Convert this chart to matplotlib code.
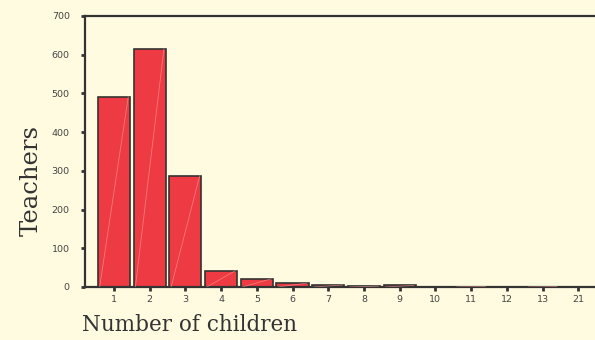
import numpy as np
import matplotlib.pyplot as plt

children = ['1', '2', '3', '4', '5', '6', '7', '8', '9', '10', '11', '12', '13', '21']
teachers = [491, 615, 287, 42, 21, 10, 5, 2, 4, 0, 1, 0, 1, 0]

bg = '#fefbe0'
fig = plt.figure(figsize=(5.95, 3.4), dpi=100, facecolor=bg)
ax = fig.add_axes([0.1429, 0.156, 0.8571, 0.797], facecolor=bg)

x = np.arange(len(children))
w = 0.9
ax.bar(x, teachers, width=w, color='#ee3b43', edgecolor='#333333', linewidth=1.2, zorder=2)
# faint diagonal streak inside each bar
for xi, h in zip(x, teachers):
    if h > 0:
        ax.plot([xi - w / 2 + 0.05, xi + w / 2 - 0.05], [0, h], color='#f7a0a0',
                lw=0.6, alpha=0.6, zorder=3)

ax.set_xlim(-0.81, 13.47)
ax.set_ylim(0, 700)
ax.set_yticks(range(0, 701, 100))
ax.set_xticks(x)
ax.set_xticklabels(children)

for s in ['left', 'top', 'bottom']:
    ax.spines[s].set_color('#333333')
    ax.spines[s].set_linewidth(1.6)
ax.spines['right'].set_visible(False)

ax.tick_params(axis='both', labelsize=6.8, labelcolor='#444444', color='#333333',
               length=3, width=2, direction='out')
ax.tick_params(axis='x', pad=3)
ax.tick_params(axis='y', pad=8)

fig.text(0.053, 0.47, 'Teachers', rotation=90, ha='center', va='center',
         family='DejaVu Serif', fontsize=17.5, color='#333333')
fig.text(0.137, 0.012, 'Number of children', ha='left', va='bottom',
         family='DejaVu Serif', fontsize=15.5, color='#333333')

fig.savefig('out.png', dpi=100, facecolor=bg)
